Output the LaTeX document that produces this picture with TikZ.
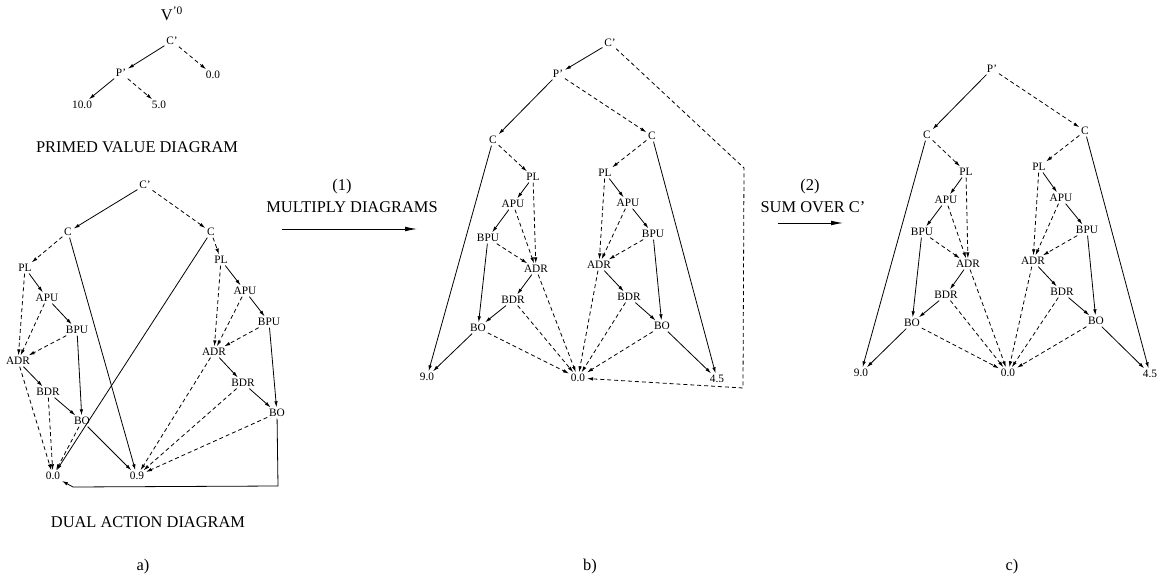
\documentclass[tikz,border=0pt]{standalone}
\usepackage{fontspec}
\setmainfont{Liberation Serif}
\usetikzlibrary{arrows.meta}
\begin{document}
\begin{tikzpicture}[x=0.75pt,y=-0.75pt,
  lbl/.style={font=\fontsize{8.5}{10}\selectfont, inner sep=1.2pt},
  ttl/.style={font=\fontsize{12.3}{14}\selectfont, inner sep=0pt},
  sol/.style={line width=0.6pt,-{Latex[length=4.5pt,width=2.6pt]}},
  dsh/.style={line width=0.6pt,dash pattern=on 3pt off 2.2pt,-{Latex[length=4.5pt,width=2.6pt]}},
  big/.style={line width=0.7pt,-{Latex[length=9pt,width=3.6pt]}},
  ]
\useasboundingbox (0,0) rectangle (1168,581);

% ---------- primed value diagram ----------
\node[ttl] (v0) at (172,14) {V\textsuperscript{’0}};
\node[lbl] (p-C) at (172,41) {C’};
\node[lbl] (p-P) at (121,73) {P’};
\node[lbl] (p-00) at (213,75) {0.0};
\node[lbl] (p-10) at (82,105) {10.0};
\node[lbl] (p-5) at (159,105) {5.0};
\node[ttl] (p-t) at (137,147) {PRIMED VALUE DIAGRAM};
\draw[sol] (p-C) -- (p-P);
\draw[dsh] (p-C) -- (p-00);
\draw[sol] (p-P) -- (p-10);
\draw[dsh] (p-P) -- (p-5);

% ---------- a) dual action diagram ----------
\node[lbl] (a-Cp) at (145,185) {C’};
\node[lbl] (a-CL) at (68,232) {C};
\node[lbl] (a-CR) at (211,232) {C};
\node[lbl] (a-PLL) at (25,268) {PL};
\node[lbl] (a-APUL) at (47,298) {APU};
\node[lbl] (a-BPUL) at (77,330) {BPU};
\node[lbl] (a-ADRL) at (18,361) {ADR};
\node[lbl] (a-BDRL) at (48,392) {BDR};
\node[lbl] (a-BOL) at (82,421) {BO};
\node[lbl] (a-PLR) at (221,260) {PL};
\node[lbl] (a-APUR) at (245,291) {APU};
\node[lbl] (a-BPUR) at (269,322) {BPU};
\node[lbl] (a-ADRR) at (214,352) {ADR};
\node[lbl] (a-BDRR) at (243,383) {BDR};
\node[lbl] (a-BOR) at (277,413) {BO};
\node[lbl] (a-00) at (53,476) {0.0};
\node[lbl] (a-09) at (137,476) {0.9};
\node[ttl] (a-t) at (148,522) {DUAL ACTION DIAGRAM};
\node[ttl] (a-l) at (143,567) {a)};
\coordinate (a-K1) at (278,486);
\coordinate (a-K2) at (73,487);

\draw[sol] (a-Cp) -- (a-CL);
\draw[dsh] (a-Cp) -- (a-CR);
\draw[dsh] (a-CL) -- (a-PLL);
\draw[dsh] (a-CR) -- (a-PLR);
\draw[sol] (a-CL) -- (a-09);
\draw[sol] (a-CR) -- (a-00);
\foreach \n in {ADRL,BDRL,BOL} \draw[dsh] (a-\n) -- (a-00);
\draw[sol] (a-BOL) -- (a-09);
\foreach \n in {ADRR,BDRR,BOR} \draw[dsh] (a-\n) -- (a-09);
\draw[sol] (a-BOR) -- (a-K1) -- (a-K2) -- (a-00);

% ---------- b) product diagram ----------
\node[lbl] (b-Cp) at (610,43) {C’};
\node[lbl] (b-Pp) at (558,74) {P’};
\node[lbl] (b-CL) at (493,140) {C};
\node[lbl] (b-CR) at (652,136) {C};
\node[lbl] (b-PLL) at (533,177) {PL};
\node[lbl] (b-PLR) at (605,173) {PL};
\node[lbl] (b-APUL) at (513,204) {APU};
\node[lbl] (b-APUR) at (628,203) {APU};
\node[lbl] (b-BPUL) at (488,238) {BPU};
\node[lbl] (b-BPUR) at (653,234) {BPU};
\node[lbl] (b-ADRL) at (536,269) {ADR};
\node[lbl] (b-ADRR) at (599,265) {ADR};
\node[lbl] (b-BDRL) at (513,300) {BDR};
\node[lbl] (b-BDRR) at (629,297) {BDR};
\node[lbl] (b-BOL) at (478,328) {BO};
\node[lbl] (b-BOR) at (662,326) {BO};
\node[lbl] (b-90) at (427,377) {9.0};
\node[lbl] (b-00) at (578,378) {0.0};
\node[lbl] (b-45) at (717,379) {4.5};
\node[ttl] (b-l) at (590,567) {b)};
\coordinate (b-K1) at (744,168);
\coordinate (b-K2) at (743,388);

\draw[sol] (b-Cp) -- (b-Pp);
\draw[dsh] (b-Cp) -- (b-K1) -- (b-K2) -- (b-00);

% ---------- c) summed diagram ----------
\node[lbl] (c-Pp) at (992,69) {P’};
\node[lbl] (c-CL) at (927,135) {C};
\node[lbl] (c-CR) at (1085,131) {C};
\node[lbl] (c-PLL) at (966,172) {PL};
\node[lbl] (c-PLR) at (1039,167) {PL};
\node[lbl] (c-APUL) at (946,200) {APU};
\node[lbl] (c-APUR) at (1061,198) {APU};
\node[lbl] (c-BPUL) at (922,232) {BPU};
\node[lbl] (c-BPUR) at (1087,230) {BPU};
\node[lbl] (c-ADRL) at (968,264) {ADR};
\node[lbl] (c-ADRR) at (1033,261) {ADR};
\node[lbl] (c-BDRL) at (946,295) {BDR};
\node[lbl] (c-BDRR) at (1062,292) {BDR};
\node[lbl] (c-BOL) at (912,323) {BO};
\node[lbl] (c-BOR) at (1096,321) {BO};
\node[lbl] (c-90) at (861,373) {9.0};
\node[lbl] (c-00) at (1008,373) {0.0};
\node[lbl] (c-45) at (1150,374) {4.5};
\node[ttl] (c-l) at (1012,567) {c)};

% shared structure of b) and c)
\foreach \p in {b,c} {
  \draw[sol] (\p-Pp) -- (\p-CL);
  \draw[dsh] (\p-Pp) -- (\p-CR);
  \draw[dsh] (\p-CL) -- (\p-PLL);
  \draw[dsh] (\p-CR) -- (\p-PLR);
  \draw[sol] (\p-CL) -- (\p-90);
  \draw[sol] (\p-CR) -- (\p-45);
  \draw[sol] (\p-BOL) -- (\p-90);
  \draw[sol] (\p-BOR) -- (\p-45);
  \foreach \n in {ADRL,BDRL,BOL,ADRR,BDRR,BOR} \draw[dsh] (\p-\n) -- (\p-00);
}

% subtrees of all three diagrams
\foreach \p in {a,b,c} {
  \foreach \s in {L,R} {
    \draw[sol] (\p-PL\s) -- (\p-APU\s);
    \draw[dsh] (\p-PL\s) -- (\p-ADR\s);
    \draw[sol] (\p-APU\s) -- (\p-BPU\s);
    \draw[dsh] (\p-APU\s) -- (\p-ADR\s);
    \draw[dsh] (\p-BPU\s) -- (\p-ADR\s);
    \draw[sol] (\p-BPU\s) -- (\p-BO\s);
    \draw[sol] (\p-ADR\s) -- (\p-BDR\s);
    \draw[sol] (\p-BDR\s) -- (\p-BO\s);
  }
}

% ---------- transition arrows ----------
\node[ttl] (m1n) at (342,187) {(1)};
\node[ttl] (m1t) at (352,207) {MULTIPLY DIAGRAMS};
\coordinate (m1a) at (282,229);
\coordinate (m1b) at (417,229);
\draw[big] (m1a) -- (m1b);
\node[ttl] (m2n) at (810,187) {(2)};
\node[ttl] (m2t) at (813,207) {SUM OVER C’};
\coordinate (m2a) at (778,223);
\coordinate (m2b) at (843,223);
\draw[big] (m2a) -- (m2b);
\end{tikzpicture}
\end{document}
